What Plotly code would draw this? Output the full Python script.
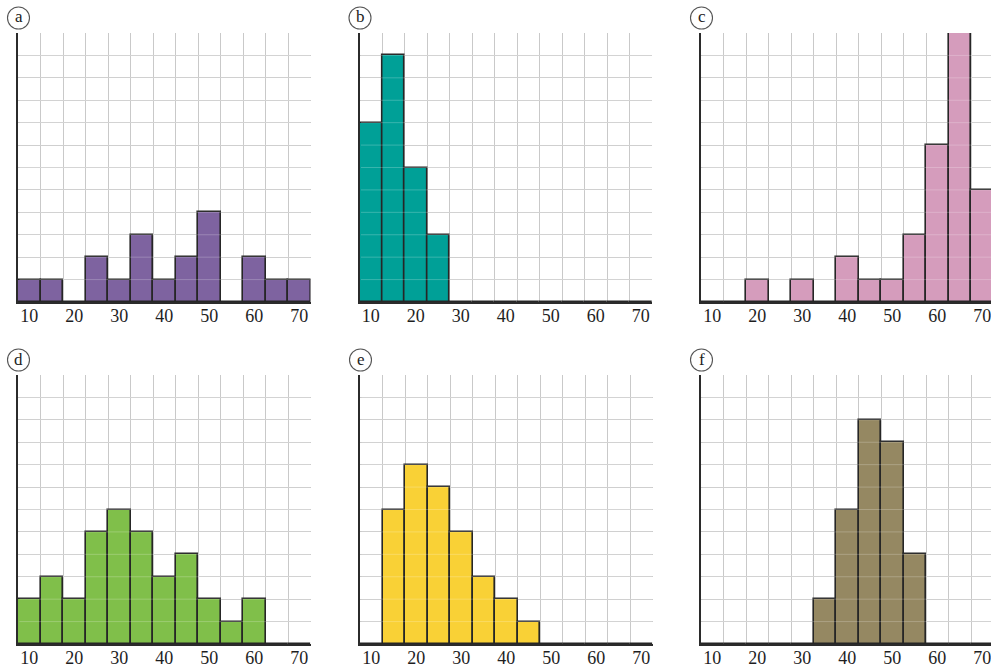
import plotly.graph_objects as go

W, H = 991, 670

bins = [10, 15, 20, 25, 30, 35, 40, 45, 50, 55, 60, 65, 70]
tick_labels = [10, 20, 30, 40, 50, 60, 70]

counts_a = [1, 1, 0, 2, 1, 3, 1, 2, 4, 0, 2, 1, 1]
counts_b = [8, 11, 6, 3, 0, 0, 0, 0, 0, 0, 0, 0, 0]
counts_c = [0, 0, 1, 0, 1, 0, 2, 1, 1, 3, 7, 12, 5]
counts_d = [2, 3, 2, 5, 6, 5, 3, 4, 2, 1, 2, 0, 0]
counts_e = [0, 6, 8, 7, 5, 3, 2, 1, 0, 0, 0, 0, 0]
counts_f = [0, 0, 0, 0, 0, 2, 6, 10, 9, 4, 0, 0, 0]

panel_letters = ["a", "b", "c", "d", "e", "f"]
panel_counts = [counts_a, counts_b, counts_c, counts_d, counts_e, counts_f]
panel_colors = ["#7e63a0", "#00a097", "#d59cbc", "#80bf4a", "#f9d136", "#958862"]

# pixel frames (left, top, right, bottom) of each plot area
frames = [
    (18, 33, 310.5, 302),
    (359.5, 33, 652, 302),
    (701, 33, 991, 302),
    (18, 375, 310.5, 644),
    (360, 375, 652.5, 644),
    (701, 375, 991, 644),
]

PX_PER_UNIT = 292.5 / 65.0
SERIF = "Liberation Serif, DejaVu Serif, Times New Roman, serif"

fig = go.Figure()
shapes = []
annotations = []
for i, (letter, counts, color, fr) in enumerate(zip(panel_letters, panel_counts, panel_colors, frames)):
    n = "" if i == 0 else str(i + 1)
    l, t, r, b = fr
    xmax = 7.5 + (r - l) / PX_PER_UNIT
    fig.add_trace(go.Bar(
        x=bins, y=counts, width=5,
        marker=dict(color=color, line=dict(color="#262626", width=1.6)),
        xaxis="x" + n, yaxis="y" + n, showlegend=False, hoverinfo="x+y",
    ))
    fig.update_layout(**{
        "xaxis" + n: dict(
            domain=[l / W, r / W], range=[7.5, xmax], anchor="y" + n,
            tickmode="array", tickvals=tick_labels, ticktext=[str(v) for v in tick_labels],
            showgrid=False, zeroline=False, ticks="",
            showline=True, linecolor="#2b2b2b", linewidth=2.2,
            tickfont=dict(family=SERIF, size=18, color="#1e1e1e"),
            ticklabeloverflow="allow", ticklabelstandoff=-4,
            minor=dict(tickmode="linear", tick0=7.5, dtick=5, showgrid=True,
                       gridcolor="#c9c9c9", gridwidth=1.3),
            fixedrange=True, layer="above traces",
        ),
        "yaxis" + n: dict(
            domain=[1 - b / H, 1 - t / H], range=[0, 12], anchor="x" + n,
            dtick=1, showgrid=True, gridcolor="#c9c9c9", gridwidth=1.3,
            zeroline=False, showticklabels=False, ticks="",
            showline=True, linecolor="#2b2b2b", linewidth=2.2,
            fixedrange=True, layer="above traces",
        ),
    })
    # faint grid lines visible across bars
    for k in range(1, 12):
        shapes.append(dict(type="line", xref="x" + n + " domain", yref="y" + n,
                           x0=0.005, x1=1, y0=k, y1=k, layer="above",
                           line=dict(color="rgba(255,255,255,0.22)", width=1)))
    # circled letter
    cx, cy, rad = l + 0.5, t - 15, 11
    shapes.append(dict(type="circle", xref="paper", yref="paper",
                       x0=(cx - rad) / W, x1=(cx + rad) / W,
                       y0=1 - (cy + rad) / H, y1=1 - (cy - rad) / H,
                       line=dict(color="#555555", width=1.1), fillcolor="white"))
    annotations.append(dict(text=letter, xref="paper", yref="paper",
                            x=cx / W, y=1 - (cy - 1) / H, showarrow=False,
                            xanchor="center", yanchor="middle",
                            font=dict(family=SERIF, size=17, color="#222222")))

fig.update_layout(
    width=W, height=H,
    margin=dict(l=0, r=0, t=0, b=0),
    paper_bgcolor="white", plot_bgcolor="white",
    bargap=0, shapes=shapes, annotations=annotations,
)

fig.write_html("out.html", config={"displayModeBar": False},
               post_script="document.body.style.margin='0';document.body.style.overflow='hidden';")
